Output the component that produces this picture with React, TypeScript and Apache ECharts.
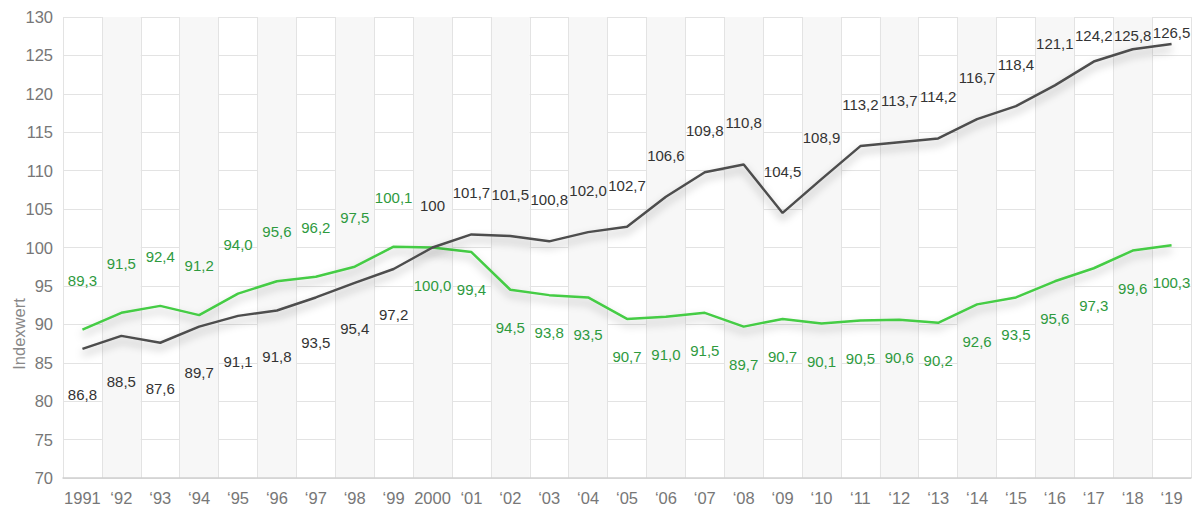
import React, { useEffect, useRef } from "react";
import * as echarts from "echarts";

const categories = [
  "1991", "‘92", "‘93", "‘94", "‘95", "‘96", "‘97", "‘98", "‘99", "2000",
  "‘01", "‘02", "‘03", "‘04", "‘05", "‘06", "‘07", "‘08", "‘09", "‘10",
  "‘11", "‘12", "‘13", "‘14", "‘15", "‘16", "‘17", "‘18", "‘19",
];

const darkValues = [
  86.8, 88.5, 87.6, 89.7, 91.1, 91.8, 93.5, 95.4, 97.2, 100,
  101.7, 101.5, 100.8, 102.0, 102.7, 106.6, 109.8, 110.8, 104.5, 108.9,
  113.2, 113.7, 114.2, 116.7, 118.4, 121.1, 124.2, 125.8, 126.5,
];

const greenValues = [
  89.3, 91.5, 92.4, 91.2, 94.0, 95.6, 96.2, 97.5, 100.1, 100.0,
  99.4, 94.5, 93.8, 93.5, 90.7, 91.0, 91.5, 89.7, 90.7, 90.1,
  90.5, 90.6, 90.2, 92.6, 93.5, 95.6, 97.3, 99.6, 100.3,
];

// index of the base year (labelled without decimals on the dark series)
const baseYearIndex = 9;

const yMin = 70;
const yMax = 130;
const yStep = 5;

const fmt = (v: number) => v.toFixed(1).replace(".", ",");

const GRID_TOP = 17;
const GRID_BOTTOM = 29;
const HEIGHT = 507;
const PLOT_H = HEIGHT - GRID_TOP - GRID_BOTTOM;

export default function App() {
  const ref = useRef<HTMLDivElement>(null);

  useEffect(() => {
    document.body.style.margin = "0";
    if (!ref.current) return;
    const chart = echarts.init(ref.current, undefined, { renderer: "svg" });
    const font = "'Liberation Sans', Arial, Helvetica, sans-serif";

    // keep labels above the line from leaving the plot top
    const topRoom = (v: number) => ((yMax - v) / (yMax - yMin)) * PLOT_H - 26;

    const darkData = darkValues.map((v, i) => ({
      value: v,
      label:
        i < baseYearIndex
          ? { show: true, position: "bottom", distance: 38 }
          : { show: true, position: "top", distance: Math.max(4, Math.min(34, topRoom(v))) },
    }));
    const greenData = greenValues.map((v, i) => ({
      value: v,
      label:
        i < baseYearIndex
          ? { show: true, position: "top", distance: 42 }
          : { show: true, position: "bottom", distance: 30 },
    }));

    chart.setOption({
      animation: false,
      backgroundColor: "#ffffff",
      textStyle: { fontFamily: font },
      grid: { left: 63, right: 8, top: GRID_TOP, bottom: GRID_BOTTOM, containLabel: false },
      xAxis: {
        type: "category",
        data: categories,
        boundaryGap: true,
        axisLine: { show: true, lineStyle: { color: "#d0d0d0", width: 1.5 } },
        axisTick: { show: false },
        axisLabel: { color: "#777777", fontSize: 16.5, margin: 11, interval: 0, fontFamily: font },
        splitLine: { show: true, interval: 0, lineStyle: { color: "#e3e3e3", width: 1 } },
        splitArea: {
          show: true,
          interval: 0,
          areaStyle: { color: ["rgba(255,255,255,0)", "#f7f7f7"] },
        },
      },
      yAxis: {
        type: "value",
        min: yMin,
        max: yMax,
        interval: yStep,
        axisLine: { show: false },
        axisTick: { show: false },
        axisLabel: { color: "#777777", fontSize: 16.5, margin: 10, fontFamily: font },
        splitLine: { show: true, lineStyle: { color: "#e3e3e3", width: 1 } },
      },
      graphic: [
        {
          type: "text",
          x: 10,
          y: 334,
          rotation: Math.PI / 2,
          style: {
            text: "Indexwert",
            fill: "#888888",
            fontSize: 16.5,
            fontFamily: font,
            align: "center",
            verticalAlign: "top",
          },
        },
      ],
      series: [
        {
          type: "line",
          name: "dark",
          data: darkData,
          symbol: "circle",
          symbolSize: 0.1,
          showSymbol: true,
          itemStyle: { color: "#4d4d4d" },
          z: 3,
          lineStyle: {
            color: "#4d4d4d",
            width: 2.5,
            shadowColor: "rgba(0,0,0,0.35)",
            shadowBlur: 8,
            shadowOffsetY: 5,
          },
          label: {
            show: true,
            color: "#333333",
            fontSize: 15,
            fontFamily: font,
            formatter: (p: any) =>
              p.dataIndex === baseYearIndex ? String(p.value) : fmt(p.value),
          },
        },
        {
          type: "line",
          name: "green",
          data: greenData,
          symbol: "circle",
          symbolSize: 0.1,
          showSymbol: true,
          itemStyle: { color: "#45cc45" },
          z: 2,
          lineStyle: {
            color: "#45cc45",
            width: 2.5,
            shadowColor: "rgba(0,0,0,0.3)",
            shadowBlur: 8,
            shadowOffsetY: 5,
          },
          label: {
            show: true,
            color: "#2e9a3e",
            fontSize: 15,
            fontFamily: font,
            formatter: (p: any) => fmt(p.value),
          },
        },
      ],
    });

    return () => chart.dispose();
  }, []);

  return <div ref={ref} style={{ width: 1199, height: 507 }} />;
}
